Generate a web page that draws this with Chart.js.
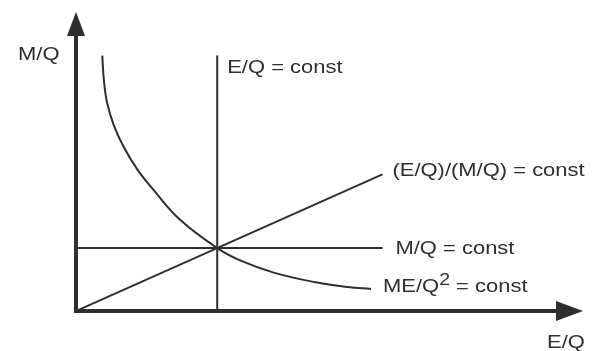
<!DOCTYPE html>
<html lang="en">
  <head>
    <meta charset="UTF-8" />
    <title>M/Q vs E/Q</title>
    <script src="https://cdn.jsdelivr.net/npm/chart.js"></script>
    <style>
      body { margin: 0; background: #fff; }
      #wrap { width: 592px; height: 351px; }
    </style>
  </head>
  <body>
    <div id="wrap"><canvas id="diagram"></canvas></div>

    <script>
      // axis ranges (E/Q horizontal, M/Q vertical), crossing point at (1, 1)
      const xRange = [0, 3.59];
      const yRange = [0, 4.75];

      // E/Q = const
      const eConstX = [1, 1];
      const eConstY = [0, 4.06];

      // M/Q = const
      const mConstX = [0, 2.17];
      const mConstY = [1, 1];

      // (E/Q)/(M/Q) = const
      const ratioX = [0, 2.17];
      const ratioY = [0, 2.17];

      // ME/Q^2 = const
      const hyperX = [0.186, 0.197, 0.221, 0.268, 0.339, 0.434, 0.55, 0.741, 1.0, 1.167, 1.4, 1.687, 1.923, 2.089];
      const hyperY = [4.056, 3.68, 3.3, 2.95, 2.6, 2.25, 1.92, 1.44, 1.0, 0.80, 0.61, 0.46, 0.38, 0.35];

      const ink = "#2e2e2e";
      const stretch = 1.22;

      function pts(xs, ys) {
        return xs.map((x, i) => ({ x: x, y: ys[i] }));
      }

      function lineSet(xs, ys, extra) {
        return Object.assign(
          {
            data: pts(xs, ys),
            showLine: true,
            borderColor: ink,
            borderWidth: 2,
            pointRadius: 0,
            fill: false,
          },
          extra || {}
        );
      }

      // text pieces: [text, size, raise]
      const labels = [
        { at: [eConstX[1], eConstY[1]], dx: 10, dy: 18, parts: [["E/Q = const", 18, 0]] },
        { at: [ratioX[1], ratioY[1]], dx: 10, dy: 2, parts: [["(E/Q)/(M/Q) = const", 18, 0]] },
        { at: [mConstX[1], mConstY[1]], dx: 13, dy: 6, parts: [["M/Q = const", 18, 0]] },
        {
          at: [hyperX[hyperX.length - 1], hyperY[hyperY.length - 1]],
          dx: 12,
          dy: 3,
          parts: [["ME/Q", 18, 0], ["2", 16, 7], [" = const", 18, 0]],
        },
        { at: [0, yRange[1]], dx: -58, dy: 48, parts: [["M/Q", 18, 0]] },
        { at: [xRange[1], 0], dx: -36, dy: 37, parts: [["E/Q", 18, 0]] },
      ];

      const axesAndText = {
        id: "axesAndText",
        afterDatasetsDraw(chart) {
          const ctx = chart.ctx;
          const sx = chart.scales.x;
          const sy = chart.scales.y;
          const ox = sx.getPixelForValue(0);
          const oy = sy.getPixelForValue(0);
          const tx = sx.getPixelForValue(xRange[1]);
          const ty = sy.getPixelForValue(yRange[1]);

          ctx.save();
          ctx.strokeStyle = ink;
          ctx.fillStyle = ink;
          ctx.lineWidth = 4;
          ctx.lineCap = "butt";

          // axis shafts
          ctx.beginPath();
          ctx.moveTo(ox, oy + 2);
          ctx.lineTo(ox, ty + 20);
          ctx.moveTo(ox - 2, oy);
          ctx.lineTo(tx - 24, oy);
          ctx.stroke();

          // arrow heads
          ctx.beginPath();
          ctx.moveTo(ox, ty);
          ctx.lineTo(ox + 9, ty + 24);
          ctx.lineTo(ox - 9, ty + 24);
          ctx.closePath();
          ctx.fill();
          ctx.beginPath();
          ctx.moveTo(tx, oy);
          ctx.lineTo(tx - 27, oy - 10);
          ctx.lineTo(tx - 27, oy + 10);
          ctx.closePath();
          ctx.fill();

          // labels, drawn slightly wide
          ctx.textBaseline = "alphabetic";
          ctx.textAlign = "left";
          labels.forEach((lb) => {
            let x = sx.getPixelForValue(lb.at[0]) + lb.dx;
            const y = sy.getPixelForValue(lb.at[1]) + lb.dy;
            lb.parts.forEach(([txt, size, raise]) => {
              ctx.font = size + "px 'Liberation Sans', Arial, sans-serif";
              ctx.save();
              ctx.translate(x, y - raise);
              ctx.scale(stretch, 1);
              ctx.fillText(txt, 0, 0);
              ctx.restore();
              x += ctx.measureText(txt).width * stretch;
            });
          });
          ctx.restore();
        },
      };

      new Chart(document.getElementById("diagram"), {
        type: "scatter",
        data: {
          datasets: [
            lineSet(eConstX, eConstY),
            lineSet(mConstX, mConstY),
            lineSet(ratioX, ratioY),
            lineSet(hyperX, hyperY, { tension: 0.4 }),
          ],
        },
        options: {
          responsive: true,
          maintainAspectRatio: false,
          animation: false,
          layout: { padding: { left: 76, right: 9, top: 12, bottom: 40 } },
          plugins: { legend: { display: false }, tooltip: { enabled: false } },
          scales: {
            x: { type: "linear", display: false, min: xRange[0], max: xRange[1] },
            y: { type: "linear", display: false, min: yRange[0], max: yRange[1] },
          },
        },
        plugins: [axesAndText],
      });
    </script>
  </body>
</html>
